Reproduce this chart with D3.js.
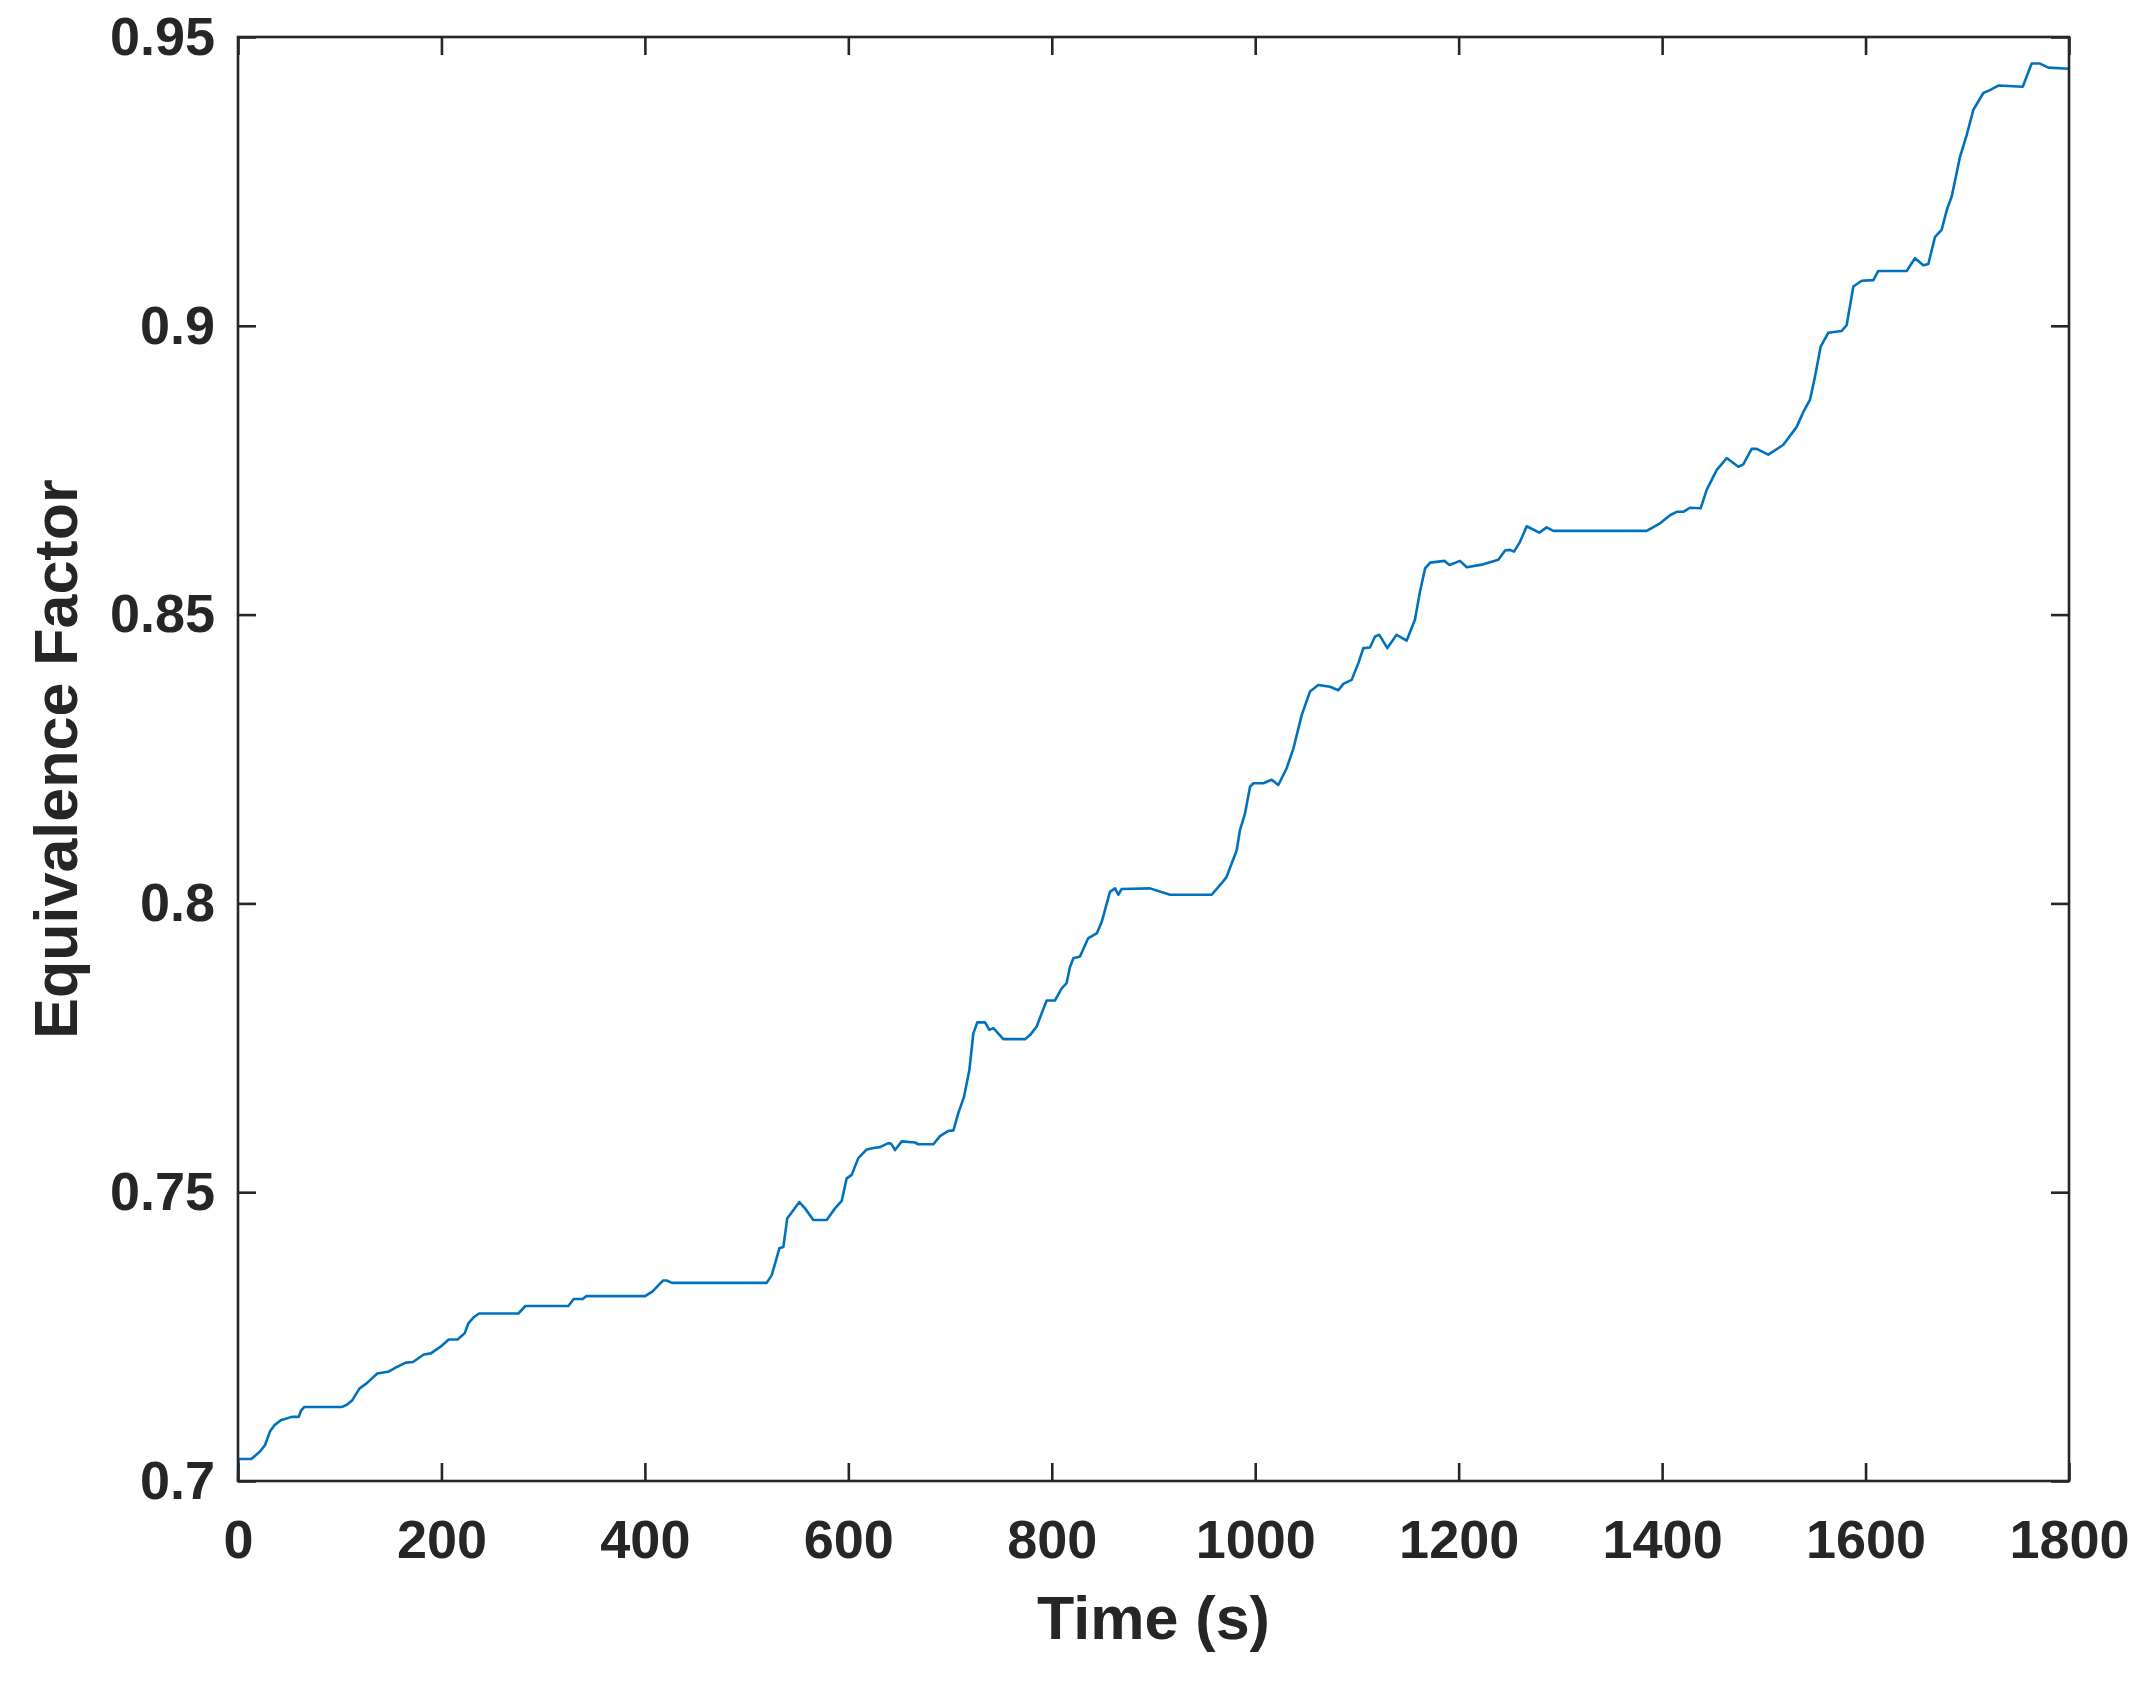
<!DOCTYPE html>
<html>
<head>
<meta charset="utf-8">
<script src="https://cdn.jsdelivr.net/npm/d3@7"></script>
<style>
  html, body { margin: 0; padding: 0; background: #fff; }
  svg { display: block; }
</style>
</head>
<body>
<svg id="chart" width="2142" height="1687"></svg>
<script>
// ---- data ----
const time = [0, 0.5, 13, 21.6, 26.5, 31.5, 36, 42, 52.7, 59.7, 62, 65, 101.8, 107, 112.4, 119.3, 126.4, 136.9, 147.5, 154.5, 165, 172, 182.6, 189.6, 200.2, 207.2, 215.9, 222.9, 226.5, 232, 237, 275.6, 282.6, 324.8, 330, 338.8, 342.3, 400.2, 407.3, 417.8, 421.3, 426.7, 519.7, 524.6, 527.9, 532.2, 536.1, 540, 544.3, 551.8, 557.4, 565.6, 578.7, 586.9, 593.5, 598.4, 603.3, 609.8, 618.1, 626.2, 631.1, 639.3, 642, 645.9, 652.5, 665.5, 668.8, 683.6, 690.1, 698.3, 703.3, 708.1, 713.7, 719, 722.9, 726.8, 734.4, 738.6, 742.6, 752.4, 773.7, 778.6, 785.2, 790.1, 795, 803.2, 809.7, 814.6, 817.9, 821.2, 827.7, 835.9, 844.2, 849.1, 857.2, 862.2, 865.4, 868.7, 896.6, 916.2, 957.2, 967, 971.9, 981.8, 985, 990, 994.9, 998.2, 1008, 1016.2, 1022.7, 1030.9, 1037.5, 1045.7, 1053.9, 1062, 1073.5, 1081.7, 1086.6, 1094.8, 1101.4, 1106.3, 1112.8, 1117.8, 1122, 1129.9, 1139, 1148.9, 1157, 1162, 1167, 1172, 1186, 1191, 1201.3, 1207.9, 1224.2, 1239, 1245.6, 1250.5, 1254.4, 1260.3, 1266.9, 1279.3, 1286.5, 1293, 1384.8, 1398, 1407.8, 1414.3, 1420.9, 1427.4, 1437.9, 1443.8, 1453.6, 1463.5, 1474.9, 1479.8, 1488, 1492.9, 1504.4, 1519.2, 1532.3, 1538.9, 1545.4, 1550.3, 1555.9, 1563.4, 1576.5, 1581.4, 1588, 1596.2, 1607.7, 1612.5, 1640.4, 1648.6, 1656.8, 1661.7, 1668.3, 1674.8, 1679.8, 1684.7, 1692.9, 1699.4, 1706, 1715.8, 1722.3, 1730.5, 1754.5, 1763.3, 1771.5, 1779.7, 1800];
const equivalenceFactor = [0.7000, 0.7038, 0.7038, 0.7051, 0.7062, 0.7086, 0.7097, 0.7105, 0.7111, 0.7111, 0.7122, 0.7128, 0.7128, 0.7132, 0.7140, 0.7160, 0.7169, 0.7186, 0.7189, 0.7196, 0.7205, 0.7206, 0.7219, 0.7221, 0.7234, 0.7245, 0.7245, 0.7256, 0.7273, 0.7284, 0.7290, 0.7290, 0.7303, 0.7303, 0.7315, 0.7315, 0.7320, 0.7320, 0.7328, 0.7347, 0.7347, 0.7343, 0.7343, 0.7356, 0.7376, 0.7403, 0.7405, 0.7455, 0.7465, 0.7483, 0.7472, 0.7452, 0.7452, 0.7472, 0.7485, 0.7524, 0.7530, 0.7559, 0.7574, 0.7577, 0.7578, 0.7585, 0.7584, 0.7573, 0.7588, 0.7586, 0.7583, 0.7583, 0.7597, 0.7606, 0.7607, 0.7637, 0.7665, 0.7712, 0.7775, 0.7794, 0.7794, 0.7781, 0.7784, 0.7765, 0.7765, 0.7772, 0.7787, 0.7810, 0.7832, 0.7832, 0.7853, 0.7862, 0.7890, 0.7905, 0.7908, 0.7940, 0.7948, 0.7968, 0.8020, 0.8026, 0.8015, 0.8025, 0.8026, 0.8015, 0.8015, 0.8035, 0.8046, 0.8092, 0.8127, 0.8156, 0.8202, 0.8208, 0.8208, 0.8214, 0.8205, 0.8234, 0.8268, 0.8326, 0.8367, 0.8378, 0.8375, 0.8369, 0.8380, 0.8387, 0.8416, 0.8442, 0.8443, 0.8462, 0.8465, 0.8442, 0.8465, 0.8455, 0.8491, 0.8540, 0.8580, 0.8590, 0.8593, 0.8586, 0.8593, 0.8582, 0.8587, 0.8595, 0.8611, 0.8612, 0.8609, 0.8626, 0.8653, 0.8642, 0.8651, 0.8645, 0.8645, 0.8658, 0.8672, 0.8678, 0.8678, 0.8685, 0.8684, 0.8716, 0.8750, 0.8771, 0.8756, 0.8760, 0.8787, 0.8787, 0.8777, 0.8794, 0.8825, 0.8851, 0.8872, 0.8912, 0.8964, 0.8988, 0.8991, 0.9001, 0.9068, 0.9078, 0.9079, 0.9095, 0.9095, 0.9117, 0.9105, 0.9107, 0.9154, 0.9166, 0.9200, 0.9224, 0.9293, 0.9330, 0.9374, 0.9403, 0.9408, 0.9416, 0.9414, 0.9454, 0.9454, 0.9447, 0.9445];

const xTicks = [0, 200, 400, 600, 800, 1000, 1200, 1400, 1600, 1800];
const xTickLabels = ["0", "200", "400", "600", "800", "1000", "1200", "1400", "1600", "1800"];
const yTicks = [0.7, 0.75, 0.8, 0.85, 0.9, 0.95];
const yTickLabels = ["0.7", "0.75", "0.8", "0.85", "0.9", "0.95"];
const xLabel = "Time (s)";
const yLabel = "Equivalence Factor";

// ---- layout ----
const plot = { left: 238, right: 2069, top: 37, bottom: 1481 };
const axisColor = "#262626";
const lineColor = "#0072BD";
const fontFamily = "'Liberation Sans', Arial, Helvetica, sans-serif";

const svg = d3.select("#chart");
svg.append("rect").attr("width", 2142).attr("height", 1687).attr("fill", "#fff");

const x = d3.scaleLinear().domain([0, 1800]).range([plot.left, plot.right]);
const y = d3.scaleLinear().domain([0.7, 0.95]).range([plot.bottom, plot.top]);

const data = time.map((t, i) => ({ t, v: equivalenceFactor[i] }));

// data line
svg.append("path")
  .datum(data)
  .attr("fill", "none")
  .attr("stroke", lineColor)
  .attr("stroke-width", 2.6)
  .attr("stroke-linejoin", "round")
  .attr("d", d3.line().x(d => x(d.t)).y(d => y(d.v)));

const tickLen = 18;
function styleAxis(g, showLabels) {
  g.select(".domain").remove();
  g.selectAll(".tick line").attr("stroke", axisColor).attr("stroke-width", 2.6);
  g.selectAll(".tick text")
    .attr("fill", axisColor)
    .style("font-family", fontFamily)
    .style("font-weight", "bold")
    .style("font-size", "54px");
  if (!showLabels) g.selectAll(".tick text").remove();
}

svg.append("g")
  .attr("transform", `translate(0,${plot.bottom})`)
  .call(d3.axisBottom(x).tickValues(xTicks).tickFormat((d, i) => xTickLabels[i])
    .tickSizeInner(-tickLen).tickSizeOuter(0).tickPadding(39))
  .call(g => styleAxis(g, true));

svg.append("g")
  .attr("transform", `translate(0,${plot.top})`)
  .call(d3.axisTop(x).tickValues(xTicks).tickSizeInner(-tickLen).tickSizeOuter(0))
  .call(g => styleAxis(g, false));

svg.append("g")
  .attr("transform", `translate(${plot.left},0)`)
  .call(d3.axisLeft(y).tickValues(yTicks).tickFormat((d, i) => yTickLabels[i])
    .tickSizeInner(-tickLen).tickSizeOuter(0).tickPadding(23))
  .call(g => styleAxis(g, true));

svg.append("g")
  .attr("transform", `translate(${plot.right},0)`)
  .call(d3.axisRight(y).tickValues(yTicks).tickSizeInner(-tickLen).tickSizeOuter(0))
  .call(g => styleAxis(g, false));

// box
svg.append("rect")
  .attr("x", plot.left).attr("y", plot.top)
  .attr("width", plot.right - plot.left).attr("height", plot.bottom - plot.top)
  .attr("fill", "none").attr("stroke", axisColor).attr("stroke-width", 2.6);

// axis titles
svg.append("text")
  .attr("x", (plot.left + plot.right) / 2)
  .attr("y", 1639)
  .attr("text-anchor", "middle")
  .attr("fill", axisColor)
  .style("font-family", fontFamily).style("font-weight", "bold").style("font-size", "61px")
  .text(xLabel);

svg.append("text")
  .attr("transform", `translate(77,${(plot.top + plot.bottom) / 2}) rotate(-90)`)
  .attr("text-anchor", "middle")
  .attr("fill", axisColor)
  .style("font-family", fontFamily).style("font-weight", "bold").style("font-size", "61px")
  .text(yLabel);
</script>
</body>
</html>
